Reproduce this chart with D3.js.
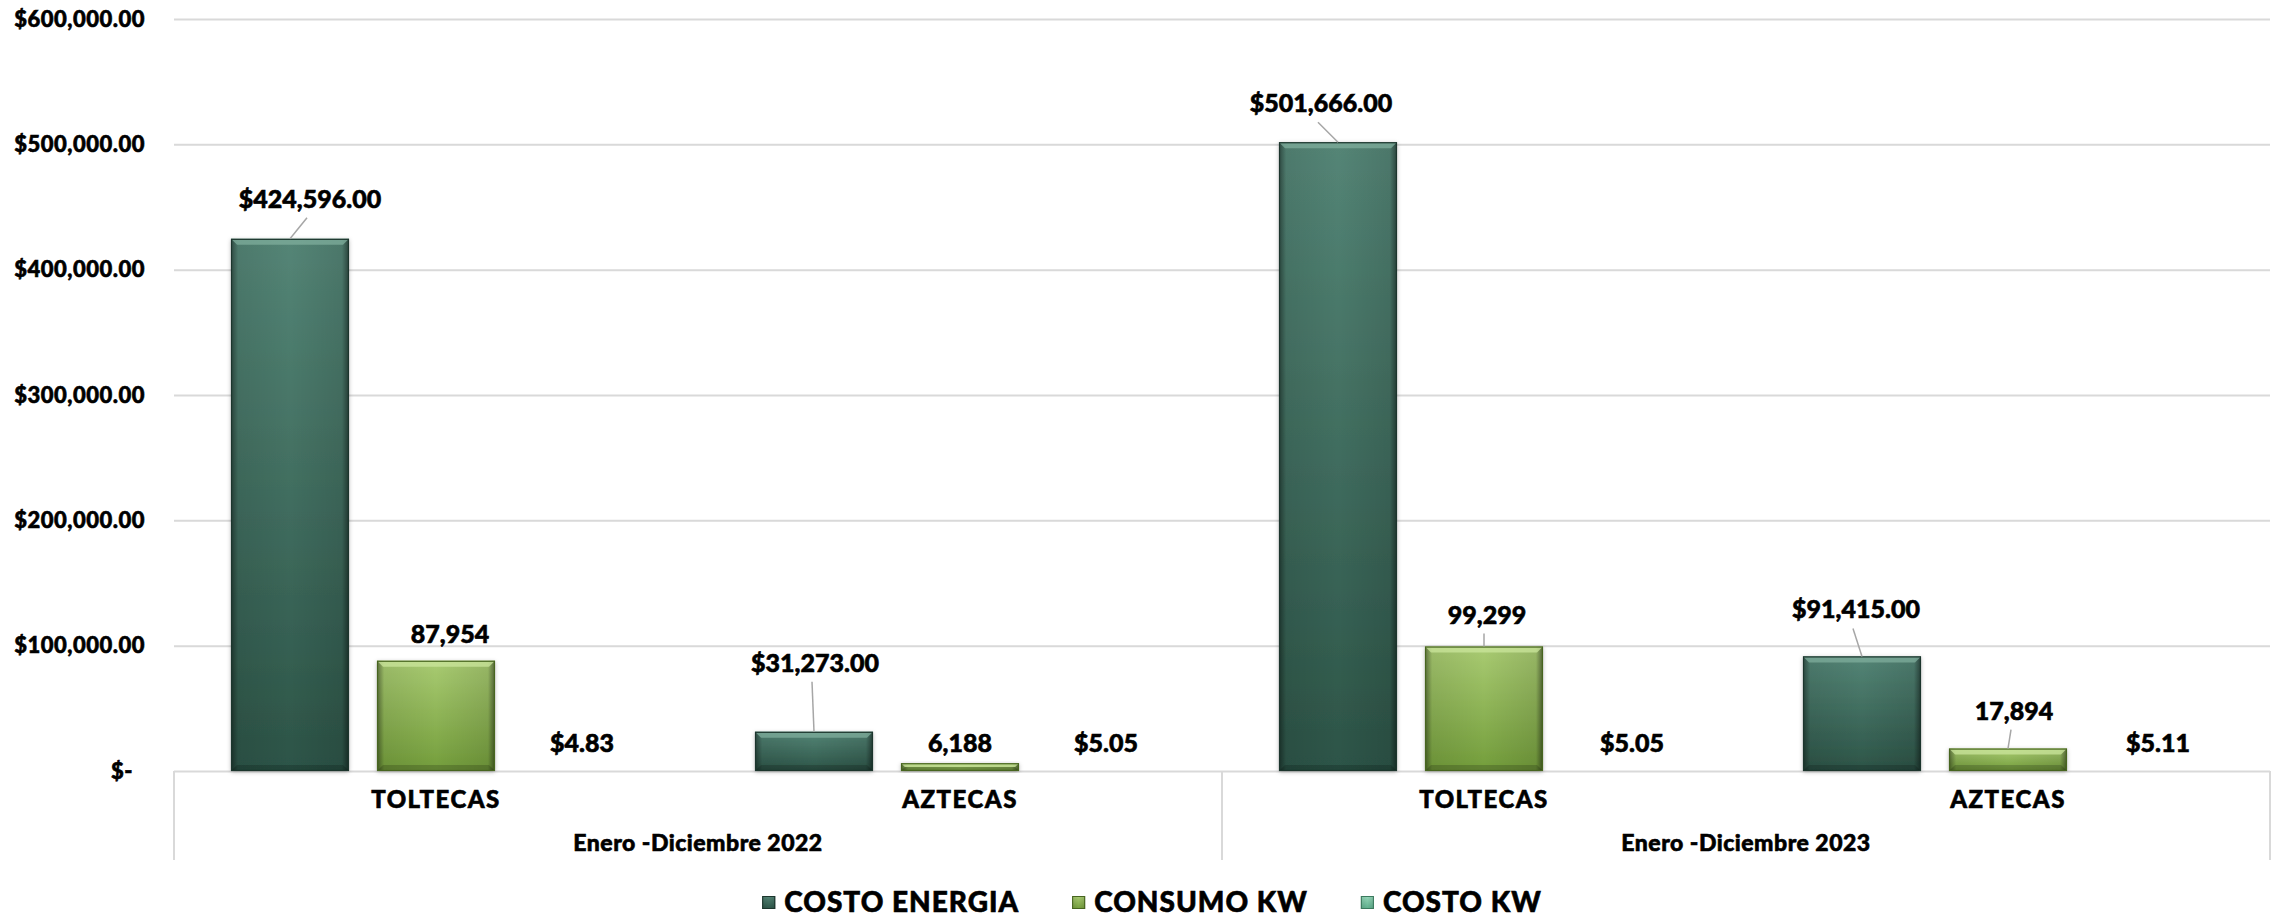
<!DOCTYPE html>
<html><head><meta charset="utf-8">
<script src="https://cdn.jsdelivr.net/npm/d3@7"></script>
<style>
body{margin:0;background:#fff}
svg{display:block}
text{font-family:Lato,"Open Sans",sans-serif;font-weight:900;fill:#000;stroke:#000;stroke-width:0.6px}
</style>
</head><body>
<svg id="c" width="2277" height="918"></svg>
<script>
// ---------- data ----------
const periods = ["Enero -Diciembre 2022", "Enero -Diciembre 2023"];
const categories = ["TOLTECAS", "AZTECAS", "TOLTECAS", "AZTECAS"];
const categoryPeriod = [0, 0, 1, 1];
const seriesNames = ["COSTO ENERGIA", "CONSUMO KW", "COSTO KW"];
const costoEnergia = [424596, 31273, 501666, 91415];
const consumoKW = [87954, 6188, 99299, 17894];
const costoKW = [4.83, 5.05, 5.05, 5.11];
const yTickValues = [0, 100000, 200000, 300000, 400000, 500000, 600000];

// ---------- layout / style ----------
const plot = {left: 174, right: 2270, top: 19, bottom: 771};
const seriesValues = [costoEnergia, consumoKW, costoKW];
const seriesFormat = [d3.format("$,.2f"), d3.format(","), d3.format("$,.2f")];
const palette = [
  {top: "#548576", bot: "#2c5447", edge: "#1c352d", hi: "#7fae9c"},
  {top: "#a9cb72", bot: "#739d3b", edge: "#47651f", hi: "#cbe59c"},
  {top: "#96d8ba", bot: "#5dae8b", edge: "#3b7a5e", hi: "#c4efdb"}
];
// data label placement (dx from bar centre, baseline offset from bar top)
const labelDx = [[20, 1, -17, -6], [14, 0, 3, 6], [0, 0, 2, 4]];
const labelDy = [[-31, -60, -30, -38], [-18, -11, -23, -29], [-19, -19, -19, -19]];
const leader = [[1, 1, 1, 1], [0, 0, 1, 1], [0, 0, 0, 0]];

const svg = d3.select("#c");
const defs = svg.append("defs");

palette.forEach((p, i) => {
  const g = defs.append("linearGradient").attr("id", "g" + i)
    .attr("x1", 0).attr("y1", 0).attr("x2", 0).attr("y2", 1);
  g.append("stop").attr("offset", "0%").attr("stop-color", p.top);
  g.append("stop").attr("offset", "100%").attr("stop-color", p.bot);
});
const hs = defs.append("linearGradient").attr("id", "hs").attr("x1", 0).attr("x2", 1).attr("y1", 0).attr("y2", 0);
[[0, .45], [.06, .08], [.5, 0], [.94, .1], [1, .5]].forEach(([o, a]) =>
  hs.append("stop").attr("offset", o).attr("stop-color", "#000").attr("stop-opacity", a));
const sh = defs.append("filter").attr("id", "sh").attr("x", "-20%").attr("y", "-20%").attr("width", "140%").attr("height", "140%");
sh.append("feDropShadow").attr("dx", 0).attr("dy", 1).attr("stdDeviation", 2.2)
  .attr("flood-color", "#000").attr("flood-opacity", 0.28);

// ---------- scales ----------
const y = d3.scaleLinear().domain([0, 600000]).range([plot.bottom, plot.top]);
const x0 = d3.scaleBand().domain(d3.range(categories.length)).range([plot.left, plot.right]).padding(0);
const bw0 = x0.bandwidth();
const x1 = d3.scaleBand().domain(d3.range(seriesNames.length))
  .range([bw0 * 0.1088, bw0 * (1 - 0.1088)]).paddingInner(0.192).paddingOuter(0);

// ---------- y axis + grid ----------
const yAxis = d3.axisLeft(y).tickValues(yTickValues)
  .tickSize(-(plot.right - plot.left)).tickPadding(29)
  .tickFormat(v => v === 0 ? "$-" : d3.format("$,.2f")(v));
const ga = svg.append("g").attr("transform", `translate(${plot.left},0)`).call(yAxis);
ga.select(".domain").remove();
ga.selectAll(".tick line").attr("stroke", "#d9d9d9").attr("stroke-width", 2);
ga.selectAll(".tick text").style("font-size", "22px").style("letter-spacing", "0.5px").attr("fill", "#000")
  .attr("dx", d => d === 0 ? -12 : 0);

// ---------- category axis lines ----------
const axisG = svg.append("g");
const sepX = [plot.left, (plot.left + plot.right) / 2, plot.right];
axisG.selectAll("line.sep").data(sepX).enter().append("line")
  .attr("x1", d => d).attr("x2", d => d).attr("y1", plot.bottom).attr("y2", 860)
  .attr("stroke", "#d9d9d9").attr("stroke-width", 2);

// ---------- bars ----------
const barsG = svg.append("g");
seriesValues.forEach((vals, s) => {
  vals.forEach((v, c) => {
    const bx = x0(c) + x1(s), w = x1.bandwidth();
    const top = y(v), h = y(0) - y(v);
    if (h < 0.5) return;
    const p = palette[s];
    const g = barsG.append("g");
    g.append("rect").attr("x", bx).attr("y", top).attr("width", w).attr("height", h)
      .attr("fill", `url(#g${s})`).attr("filter", "url(#sh)");
    g.append("rect").attr("x", bx).attr("y", top).attr("width", w).attr("height", h)
      .attr("fill", "url(#hs)");
    const b = Math.min(6, h / 2);
    g.append("path").attr("d", `M${bx},${top}H${bx + w}L${bx + w - b},${top + b}H${bx + b}Z`)
      .attr("fill", p.hi).attr("opacity", 0.75);
    g.append("path").attr("d", `M${bx},${top + h}H${bx + w}L${bx + w - b},${top + h - b}H${bx + b}Z`)
      .attr("fill", "#000").attr("opacity", 0.18);
    g.append("rect").attr("x", bx + 0.5).attr("y", top + 0.5).attr("width", w - 1).attr("height", Math.max(0, h - 1))
      .attr("fill", "none").attr("stroke", p.edge).attr("stroke-width", 1.2);
  });
});

// ---------- data labels ----------
const lblG = svg.append("g");
seriesValues.forEach((vals, s) => {
  vals.forEach((v, c) => {
    const cx = x0(c) + x1(s) + x1.bandwidth() / 2;
    const top = y(v);
    const lx = cx + labelDx[s][c], ly = top + labelDy[s][c];
    if (leader[s][c]) {
      lblG.append("line").attr("x1", lx - 3).attr("y1", ly + 10).attr("x2", cx).attr("y2", top)
        .attr("stroke", "#a6a6a6").attr("stroke-width", 1.5);
    }
    lblG.append("text").attr("x", lx).attr("y", ly).attr("text-anchor", "middle")
      .style("font-size", "25px").text(seriesFormat[s](v));
  });
});

// ---------- category labels ----------
svg.append("g").selectAll("text").data(categories).enter().append("text")
  .attr("x", (d, i) => x0(i) + bw0 / 2).attr("y", 808).attr("text-anchor", "middle")
  .style("font-size", "24px").style("letter-spacing", "1.5px").text(d => d);
svg.append("g").selectAll("text").data(periods).enter().append("text")
  .attr("x", (d, i) => {
    const idx = categoryPeriod.map((p, k) => p === i ? k : -1).filter(k => k >= 0);
    return (x0(idx[0]) + x0(idx[idx.length - 1]) + bw0) / 2;
  })
  .attr("y", 851).attr("text-anchor", "middle").style("font-size", "23px").style("letter-spacing", "0.5px").text(d => d);

// ---------- legend ----------
const leg = svg.append("g");
let cur = 0;
seriesNames.forEach((n, i) => {
  const g = leg.append("g");
  g.append("rect").attr("x", cur).attr("y", -9).attr("width", 13).attr("height", 13).attr("fill", `url(#g${i})`);
  g.append("rect").attr("x", cur).attr("y", -9).attr("width", 13).attr("height", 13).attr("fill", "url(#hs)");
  g.append("rect").attr("x", cur + 0.5).attr("y", -8.5).attr("width", 12).attr("height", 12)
    .attr("fill", "none").attr("stroke", palette[i].edge).attr("stroke-width", 1);
  const t = g.append("text").attr("x", cur + 22).attr("y", 7).style("font-size", "28px")
    .style("letter-spacing", "1px").text(n);
  cur += 22 + t.node().getComputedTextLength() + 53;
});
const legW = cur - 53;
leg.attr("transform", `translate(${1152 - legW / 2},905)`);
</script>
</body></html>
